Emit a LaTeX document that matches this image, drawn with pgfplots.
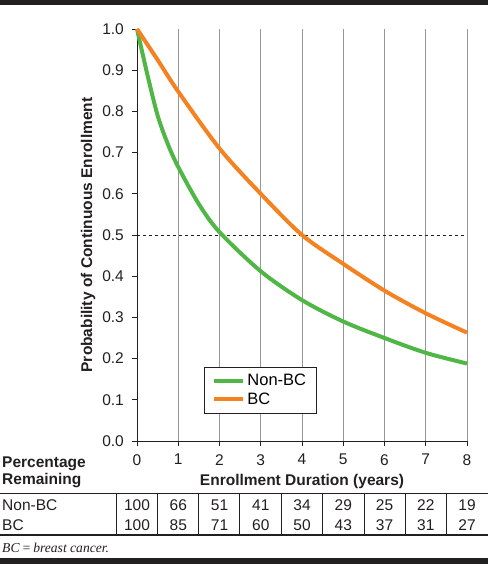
\documentclass[border=0pt]{standalone}
\usepackage{pgfplots}
\pgfplotsset{compat=1.18}
\usepackage{fontspec}
\setmainfont{Liberation Sans}
\newfontfamily\serifit{Liberation Serif}
\definecolor{cgreen}{RGB}{80,182,70}
\definecolor{corange}{RGB}{245,130,32}
\definecolor{ink}{RGB}{35,31,32}
\definecolor{gridgray}{RGB}{150,150,150}
\newcommand{\fs}{\fontsize{15.5}{17}\selectfont}
\begin{document}
\begin{tikzpicture}[x=1pt,y=1pt]
\path[use as bounding box] (0,0) rectangle (488,564);
\fill[ink] (0,559) rectangle (488,564);
\fill[ink] (0,0) rectangle (488,6);
\begin{axis}[
  at={(137pt,123pt)}, anchor=south west,
  scale only axis, width=330pt, height=412pt,
  xmin=0, xmax=8, ymin=0, ymax=1,
  axis x line=bottom, axis y line=left,
  axis line style={-, ink, line width=0.8pt},
  xtick={0,1,2,3,4,5,6,7,8},
  ytick={0,0.1,0.2,0.3,0.4,0.5,0.6,0.7,0.8,0.9,1.0},
  yticklabel style={inner sep=2pt, xshift=-6pt, /pgf/number format/.cd, fixed, fixed zerofill, precision=1},
  /pgf/number format/assume math mode=true,
  tick label style={font=\fs, text=ink},
  xticklabel style={inner sep=1pt, yshift=-7pt},
  major tick length=5pt, tick align=outside,
  tick style={ink, line width=0.8pt},
  xmajorgrids, major grid style={gridgray, line width=1pt},
  clip=false,
  legend style={at={(0.203,0.1796)}, anchor=north west, draw=ink, line width=0.9pt,
    font=\fontsize{16.5}{18}\selectfont, inner xsep=8pt, inner ysep=5pt, row sep=1.5pt},
  legend cell align=left,
  legend image code/.code={\draw[#1, line width=4pt] (0pt,0pt) -- (29pt,0pt);},
]
\addplot[ink, dashed, line width=0.7pt, forget plot] coordinates {(0,0.5) (8,0.5)};
\addplot[cgreen, line width=4pt, smooth, tension=0.5] coordinates {
 (0,1.0) (0.25,0.89) (0.5,0.79) (0.75,0.72) (1,0.665) (1.5,0.575) (2,0.507)
 (3,0.412) (4,0.342) (5,0.29) (6,0.25) (7,0.214) (8,0.188)};
\addlegendentry{Non-BC}
\addplot[corange, line width=4pt, smooth, tension=0.5] coordinates {
 (0,1.0) (0.5,0.925) (1,0.848) (2,0.71) (3,0.6) (4,0.5) (5,0.43)
 (6,0.365) (7,0.31) (8,0.263)};
\addlegendentry{BC}
\end{axis}
% axis titles
\node[rotate=90, font=\bfseries\fs, text=ink] at (88,329) {Probability of Continuous Enrollment};
\node[font=\bfseries\fs, text=ink] at (302,83) {Enrollment Duration (years)};
\node[anchor=west, font=\bfseries\fs, text=ink, inner sep=0pt] at (2,100) {Percentage};
\node[anchor=west, font=\bfseries\fs, text=ink, inner sep=0pt] at (2,83) {Remaining};
% table
\draw[ink, line width=0.7pt] (0,71) -- (488,71);
\draw[ink, line width=2pt] (0,29) -- (488,29);
\foreach \xx in {116.7,157.5,198.5,239.5,281,322.3,364,405,446.3}
  \draw[ink, line width=0.8pt] (\xx,71) -- (\xx,30);
\node[anchor=west, inner sep=0pt, font=\fs, text=ink] at (2,59) {Non-BC};
\node[anchor=west, inner sep=0pt, font=\fs, text=ink] at (2,38.5) {BC};
\foreach \v [count=\i from 0] in {100,66,51,41,34,29,25,22,19}
  \node[font=\fs, text=ink] at (137+41.25*\i,59) {\v};
\foreach \v [count=\i from 0] in {100,85,71,60,50,43,37,31,27}
  \node[font=\fs, text=ink] at (137+41.25*\i,38.5) {\v};
\node[anchor=west, inner sep=0pt, font=\serifit\itshape\fontsize{13.6}{15}\selectfont, text=ink] at (2,16) {BC\,=\,breast cancer.};
\end{tikzpicture}
\end{document}
